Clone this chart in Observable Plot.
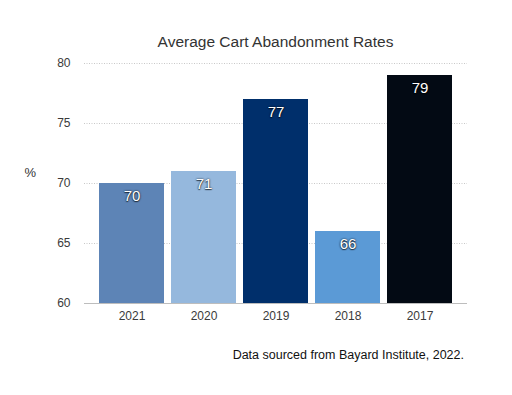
<!DOCTYPE html>
<html>
<head>
<meta charset="utf-8">
<script src="https://cdn.jsdelivr.net/npm/d3@7"></script>
<script src="https://cdn.jsdelivr.net/npm/@observablehq/plot@0.6"></script>
<style>
  body { margin: 0; background: #fff; font-family: "Liberation Sans", Arial, sans-serif; }
  #wrap { width: 512px; height: 395px; position: relative; }
  #title { height: 55px; box-sizing: border-box; padding-top: 33px; line-height: 18px; font-size: 15.5px; color: #333; text-align: center; padding-left: 39px; }
  #caption { height: 65px; box-sizing: border-box; padding-top: 18px; font-size: 12.5px; color: #111; text-align: right; padding-right: 48px; line-height: 15px; }
</style>
</head>
<body>
<div id="wrap">
  <div id="title">Average Cart Abandonment Rates</div>
  <div id="chart"></div>
  <div id="caption">Data sourced from Bayard Institute, 2022.</div>
</div>
<script>
const years = ["2021", "2020", "2019", "2018", "2017"];
const rates = [70, 71, 77, 66, 79];
const barColors = ["#5d84b6", "#95b8dd", "#002f6b", "#5b9ad6", "#030a14"];
const yTicks = [60, 65, 70, 75, 80];

const data = years.map((y, i) => ({year: y, rate: rates[i], color: barColors[i]}));

const chart = Plot.plot({
  width: 512,
  height: 275,
  marginTop: 8,
  marginBottom: 27,
  marginLeft: 84,
  marginRight: 45,
  style: {fontFamily: "Liberation Sans, Arial, sans-serif", fontSize: "12px", color: "#3a3a3a", background: "transparent"},
  x: {domain: years, paddingInner: 0.093, paddingOuter: 0.18, label: null, tickSize: 0, tickPadding: 8},
  y: {domain: [60, 80], ticks: yTicks, label: null, tickSize: 0, tickPadding: 14},
  marks: [
    Plot.ruleY(yTicks.slice(1), {stroke: "#c8c8c8", strokeDasharray: "1,1.5", strokeWidth: 1}),
    Plot.barY(data, {x: "year", y1: 60, y2: "rate", fill: "color"}),
    Plot.ruleY([60], {stroke: "#bdbdbd", strokeWidth: 1}),
    Plot.text(data, {x: "year", y: "rate", text: d => String(d.rate), dy: 13, fill: "white", fontSize: 15}),
    Plot.text(["%"], {frameAnchor: "left", dx: -60, dy: -11, fill: "#333", fontSize: 13})
  ]
});
document.getElementById("chart").appendChild(chart);
d3.select(chart).selectAll("g[aria-label='text']").filter((d, i) => i === 0)
  .selectAll("text").style("text-shadow", "0 0 2px rgba(0,0,0,0.9), 0 1px 1px rgba(0,0,0,0.6)");
</script>
</body>
</html>
